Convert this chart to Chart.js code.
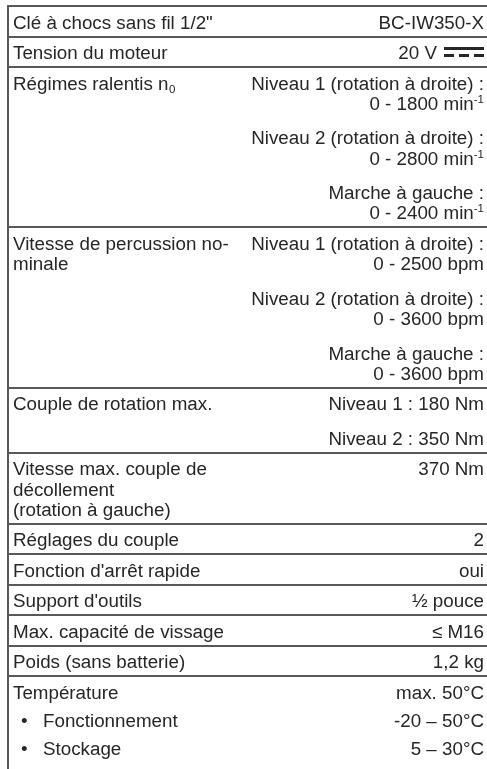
<!DOCTYPE html>
<html>
<head>
<meta charset="utf-8">
<script src="https://cdn.jsdelivr.net/npm/chart.js@4.4.0/dist/chart.umd.min.js"></script>
<style>
  html, body { margin: 0; padding: 0; background: #fff; }
  #wrap { width: 487px; height: 769px; }
</style>
</head>
<body>
<div id="wrap"><canvas id="specChart"></canvas></div>
<script>
// spec table: each row has groups of label lines and groups of value lines
// "^" marks a superscript tail, "_" a subscript tail
const rowLabels = [
  [['Clé à chocs sans fil 1/2"']],
  [['Tension du moteur']],
  [['Régimes ralentis n_0']],
  [['Vitesse de percussion no-', 'minale']],
  [['Couple de rotation max.']],
  [['Vitesse max. couple de', 'décollement', '(rotation à gauche)']],
  [['Réglages du couple']],
  [["Fonction d'arrêt rapide"]],
  [["Support d'outils"]],
  [['Max. capacité de vissage']],
  [['Poids (sans batterie)']],
  [['Température'], ['• Fonctionnement'], ['• Stockage']]
];

const rowValues = [
  [['BC-IW350-X']],
  [['20 V ⎓']],
  [['Niveau 1 (rotation à droite) :', '0 - 1800 min^-1'],
   ['Niveau 2 (rotation à droite) :', '0 - 2800 min^-1'],
   ['Marche à gauche :', '0 - 2400 min^-1']],
  [['Niveau 1 (rotation à droite) :', '0 - 2500 bpm'],
   ['Niveau 2 (rotation à droite) :', '0 - 3600 bpm'],
   ['Marche à gauche :', '0 - 3600 bpm']],
  [['Niveau 1 : 180 Nm'], ['Niveau 2 : 350 Nm']],
  [['370 Nm']],
  [['2']],
  [['oui']],
  [['½ pouce']],
  [['≤ M16']],
  [['1,2 kg']],
  [['max. 50°C'], ['-20 – 50°C'], ['5 – 30°C']]
];

// layout (in px units of the y scale)
const LINE = 20.3;
const GROUP_GAP = 14.2;
const BULLET_GAP = 7.7;
const ROW_PAD = 30.5;
const FIRST_BASE = 22.5;
const FONT = '18.8px "Liberation Sans", Arial, sans-serif';
const SMALL = '11.5px "Liberation Sans", Arial, sans-serif';
const INK = '#262626';
const RULE = '#585858';

function offsets(groups, gap) {
  const out = [];
  let off = 0;
  groups.forEach((g, gi) => {
    if (gi > 0) off += LINE + gap;
    g.forEach((line, li) => {
      if (li > 0) off += LINE;
      out.push({ off, text: line });
    });
  });
  return out;
}

const rowTops = [];
const labelPoints = [];
const valuePoints = [];
let rowTop = 0;
rowLabels.forEach((labels, r) => {
  const gap = labels.some(g => g[0].startsWith('•')) ? BULLET_GAP : GROUP_GAP;
  const l = offsets(labels, gap);
  const v = offsets(rowValues[r], gap);
  rowTops.push(rowTop);
  l.forEach(p => labelPoints.push({ x: 0, y: rowTop + FIRST_BASE + p.off, text: p.text }));
  v.forEach(p => valuePoints.push({ x: 1, y: rowTop + FIRST_BASE + p.off, text: p.text }));
  const last = Math.max(l[l.length - 1].off, v[v.length - 1].off);
  rowTop += ROW_PAD + last;
});

function splitScript(text) {
  const m = text.match(/^(.*?)([\^_])(\S+)$/);
  if (!m) return { main: text, script: null };
  return { main: m[1], script: m[3], sup: m[2] === '^' };
}

function drawRich(ctx, text, x, y, align) {
  const s = splitScript(text);
  ctx.font = FONT;
  const w1 = ctx.measureText(s.main).width;
  let w2 = 0;
  if (s.script) { ctx.font = SMALL; w2 = ctx.measureText(s.script).width; }
  const start = align === 'right' ? x - w1 - w2 : x;
  ctx.textAlign = 'left';
  ctx.font = FONT;
  ctx.fillText(s.main, start, y);
  if (s.script) {
    ctx.font = SMALL;
    ctx.fillText(s.script, start + w1 + (s.sup ? 0 : 0.5), y + (s.sup ? -7 : 3.5));
  }
}

const tableText = {
  id: 'tableText',
  afterDatasetsDraw(chart) {
    const ctx = chart.ctx;
    ctx.save();
    ctx.fillStyle = INK;
    ctx.textBaseline = 'alphabetic';
    chart.data.datasets.forEach((ds, di) => {
      const meta = chart.getDatasetMeta(di);
      meta.data.forEach((el, i) => {
        const text = ds.data[i].text;
        if (ds.side === 'label') {
          if (text.startsWith('• ')) {
            ctx.font = FONT;
            ctx.textAlign = 'left';
            ctx.fillText('•', el.x + 13, el.y);
            drawRich(ctx, text.slice(2), el.x + 35, el.y, 'left');
          } else {
            drawRich(ctx, text, el.x + 5, el.y, 'left');
          }
        } else {
          let right = el.x - 3;
          if (text.endsWith('⎓')) {
            // direct current symbol: solid bar over dashed bar
            const w = 40;
            ctx.fillRect(right - w, el.y - 12, w, 3);
            for (let k = 0; k < 3; k++) ctx.fillRect(right - w + k * 15, el.y - 5, 10, 3);
            right -= w + 7;
            drawRich(ctx, text.replace('⎓', '').trim(), right, el.y, 'right');
          } else {
            drawRich(ctx, text, right, el.y, 'right');
          }
        }
      });
    });
    ctx.restore();
  }
};

new Chart(document.getElementById('specChart'), {
  type: 'scatter',
  data: {
    datasets: [
      { label: 'Caractéristique', side: 'label', data: labelPoints, pointRadius: 0 },
      { label: 'Valeur', side: 'value', data: valuePoints, pointRadius: 0 }
    ]
  },
  options: {
    responsive: true,
    maintainAspectRatio: false,
    animation: false,
    events: [],
    layout: { padding: { top: 6, left: 8, right: 0, bottom: 0 } },
    plugins: { legend: { display: false }, tooltip: { enabled: false } },
    scales: {
      x: { type: 'linear', min: 0, max: 1, display: false },
      y: {
        type: 'linear',
        reverse: true,
        min: 0,
        max: 763,
        afterBuildTicks: s => { s.ticks = rowTops.map(v => ({ value: v })); },
        afterFit: s => { s.width = 0; },
        ticks: { display: false },
        grid: { color: RULE, lineWidth: 2, drawTicks: false, tickLength: 0 },
        border: { display: true, color: RULE, width: 2 }
      }
    }
  },
  plugins: [tableText]
});
</script>
</body>
</html>
